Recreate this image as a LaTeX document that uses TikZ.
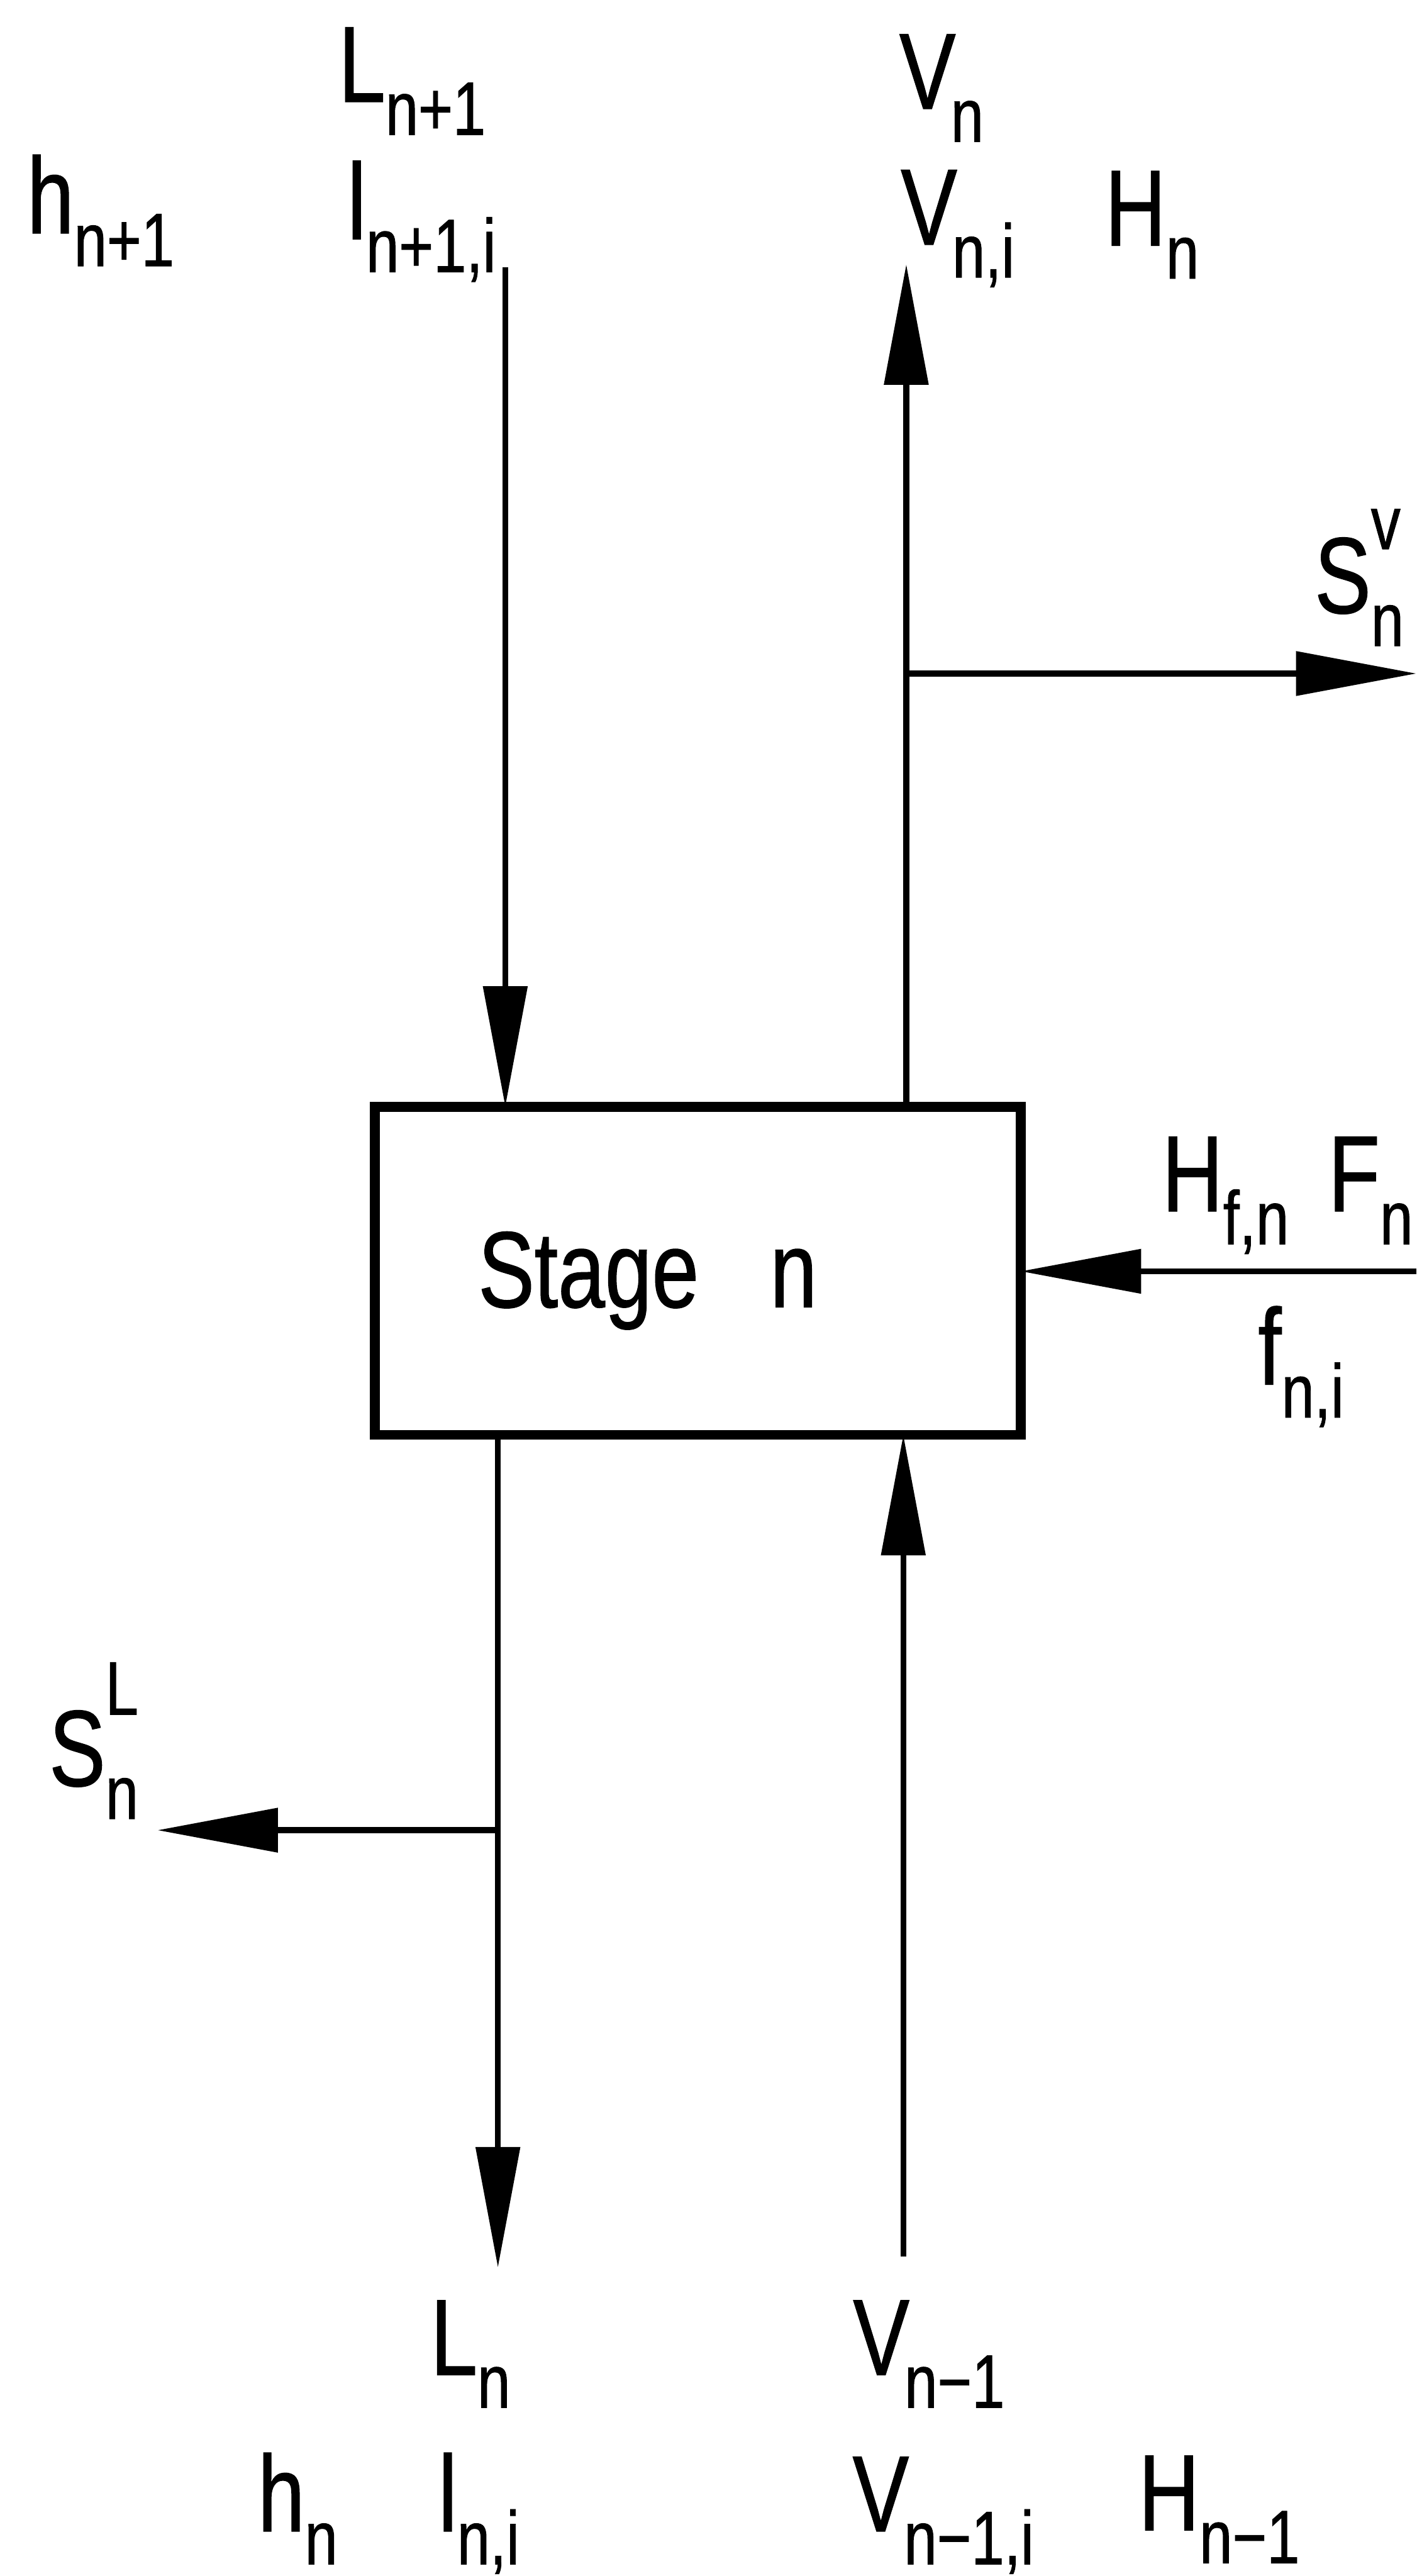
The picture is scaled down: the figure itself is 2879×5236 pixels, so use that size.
\documentclass[tikz,border=0pt]{standalone}
\usepackage{fontspec}
\setmainfont{Liberation Sans}
\newfontfamily\labfont[FakeStretch=0.78,FakeBold=0.8]{Liberation Sans}
\usetikzlibrary{arrows.meta}
\newcommand{\mainsz}{\fontsize{22}{26}\selectfont}
\newcommand{\subsz}{\fontsize{15.4}{18}\selectfont}
\newcommand{\sbs}[1]{\raisebox{-6.7pt}{\subsz #1}}
\newcommand{\sps}[3]{\rlap{\raisebox{#1}{\subsz #2}}\raisebox{-6.7pt}{\subsz #3}}
\begin{document}
\begin{tikzpicture}[x=0.1pt,y=-0.1pt,
  lab/.style={anchor=base west, inner sep=0pt, outer sep=0pt, font=\labfont\mainsz},
  flow/.style={line width=1.2pt, -{Triangle[length=24.5pt,width=8.8pt]}},
  stagebox/.style={draw, line width=2pt, minimum width=131.3pt, minimum height=66.7pt, inner sep=0pt, outer sep=0pt}]
\fill[white] (0,0) rectangle (2879,5236);
\useasboundingbox (0,0) rectangle (2879,5236);

% stage box
\node[stagebox] (box) at (1418,2583) {};
\node[lab] (stagetxt) at (972,2657) {Stage\hspace{14.5pt}n};

% top labels
\node[lab] (Lnp) at (688,207) {L\sbs{n+1}};
\node[lab] (lnpi) at (706,486) {l\sbs{n+1,i}};
\node[lab] (hnp) at (55,474) {h\sbs{n+1}};
\node[lab] (Vn) at (1828,221) {V\hspace{-1pt}\sbs{n}};
\node[lab] (Vni) at (1831,497) {V\hspace{-1pt}\sbs{n,i}};
\node[lab] (Hn) at (2246,499) {H\sbs{n}};
\node[lab] (SV) at (2672,1246) {S\sps{13pt}{v}{n}};

% feed labels
\node[lab] (Hfn) at (2362,2462) {H\sbs{f,n}};
\node[lab] (Fn) at (2700,2462) {F\sbs{n}};
\node[lab] (fni) at (2557,2814) {f\sbs{n,i}};

% side draw label
\node[lab] (SL) at (100,3630) {S\sps{14.5pt}{L}{n}};

% bottom labels
\node[lab] (Ln) at (875,4827) {L\sbs{n}};
\node[lab] (Vnm) at (1734,4827) {V\hspace{-1pt}\sbs{n−1}};
\node[lab] (hn) at (524,5145) {h\sbs{n}};
\node[lab] (lni) at (891,5145) {l\sbs{n,i}};
\node[lab] (Vnmi) at (1733,5145) {V\hspace{-1pt}\sbs{n−1,i}};
\node[lab] (Hnm) at (2314,5143) {H\sbs{n−1}};

% connector end points
\coordinate (ltop) at (1027,543);
\coordinate (rtop) at (1842,537);
\coordinate (svbr) at (1842,1369);
\coordinate (svend) at (2879,1369);
\coordinate (feedst) at (2879,2584);
\coordinate (lbot) at (1012,4609);
\coordinate (slbr) at (1012,3720);
\coordinate (slend) at (320,3720);
\coordinate (rbot) at (1836,4586);

% connectors
\draw[flow] (ltop) -- (ltop |- box.north);
\draw[flow] (rtop |- box.north) -- (rtop);
\draw[flow] (svbr) -- (svend);
\draw[flow] (feedst) -- (feedst -| box.east);
\draw[flow] (lbot |- box.south) -- (lbot);
\draw[flow] (slbr) -- (slend);
\draw[flow] (rbot) -- (rbot |- box.south);
\end{tikzpicture}
\end{document}
